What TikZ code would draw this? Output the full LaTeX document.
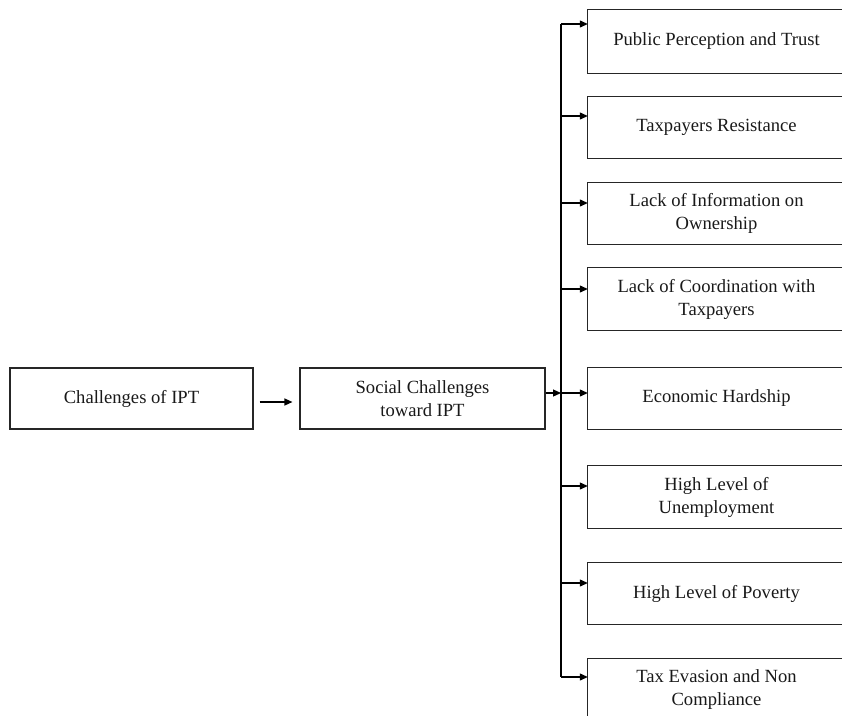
\documentclass[tikz,border=0pt]{standalone}
\usepackage{fontspec}
\setmainfont{Liberation Serif}
\usetikzlibrary{arrows.meta}
\begin{document}
\begin{tikzpicture}[x=1pt,y=-1pt,
  txt/.style={rectangle, align=center, inner sep=0pt, text=black!90,
    font=\fontsize{18.6}{23}\selectfont},
  box/.style={txt, draw=black!85, line width=1.1pt},
  openbox/.style={txt},
  frame/.style={draw=black!85, line width=1.1pt},
  trunk/.style={draw=black, line width=2.4pt},
  link/.style={draw=black, line width=1.2pt,
    -{Triangle[length=8pt,width=7pt]}}]
\useasboundingbox (0,0) rectangle (842,715);

% main chain
\node[box, minimum width=243pt, minimum height=61pt] (c) at (131.5,398.5) {Challenges of IPT};
\node[box, minimum width=245pt, minimum height=61pt] (s) at (422.5,398.5) {Social Challenges\\toward IPT};

% the eight social challenges (boxes run off the right edge of the page)
\node[openbox, minimum width=257pt, minimum height=63pt] (r1) at (716.5,41.5) {Public Perception and Trust};
\node[openbox, minimum width=257pt, minimum height=61pt] (r2) at (716.5,127.5) {Taxpayers Resistance};
\node[openbox, minimum width=257pt, minimum height=61pt] (r3) at (716.5,213.5) {Lack of Information on\\Ownership};
\node[openbox, minimum width=257pt, minimum height=62pt] (r4) at (716.5,299) {Lack of Coordination with\\Taxpayers};
\node[openbox, minimum width=257pt, minimum height=61pt] (r5) at (716.5,398.5) {Economic Hardship};
\node[openbox, minimum width=257pt, minimum height=62pt] (r6) at (716.5,497) {High Level of\\Unemployment};
\node[openbox, minimum width=257pt, minimum height=61pt] (r7) at (716.5,593.5) {High Level of Poverty};
\node[openbox, minimum width=257pt, minimum height=62pt] (r8) at (716.5,690) {Tax Evasion and Non\\Compliance};

\foreach \i in {1,...,8}
  \draw[frame] (r\i.north east) -- (r\i.north west) -- (r\i.south west) -- (r\i.south east);

% branch points on the vertical trunk
\coordinate (t1) at (561,24);
\coordinate (t2) at (561,116);
\coordinate (t3) at (561,203);
\coordinate (t4) at (561,289);
\coordinate (t5) at (561,393);
\coordinate (t6) at (561,486);
\coordinate (t7) at (561,583);
\coordinate (t8) at (561,677);

\draw[trunk] (t1) -- (t8);

\draw[link, shorten <=6pt, shorten >=7pt] ([yshift=-3.5pt]c.east) -- ([yshift=-3.5pt]s.west);
\draw[link] (s.east |- t5) -- (t5);

\foreach \i in {1,...,8}
  \draw[link] (t\i) -- (t\i -| r\i.west);
\end{tikzpicture}
\end{document}
